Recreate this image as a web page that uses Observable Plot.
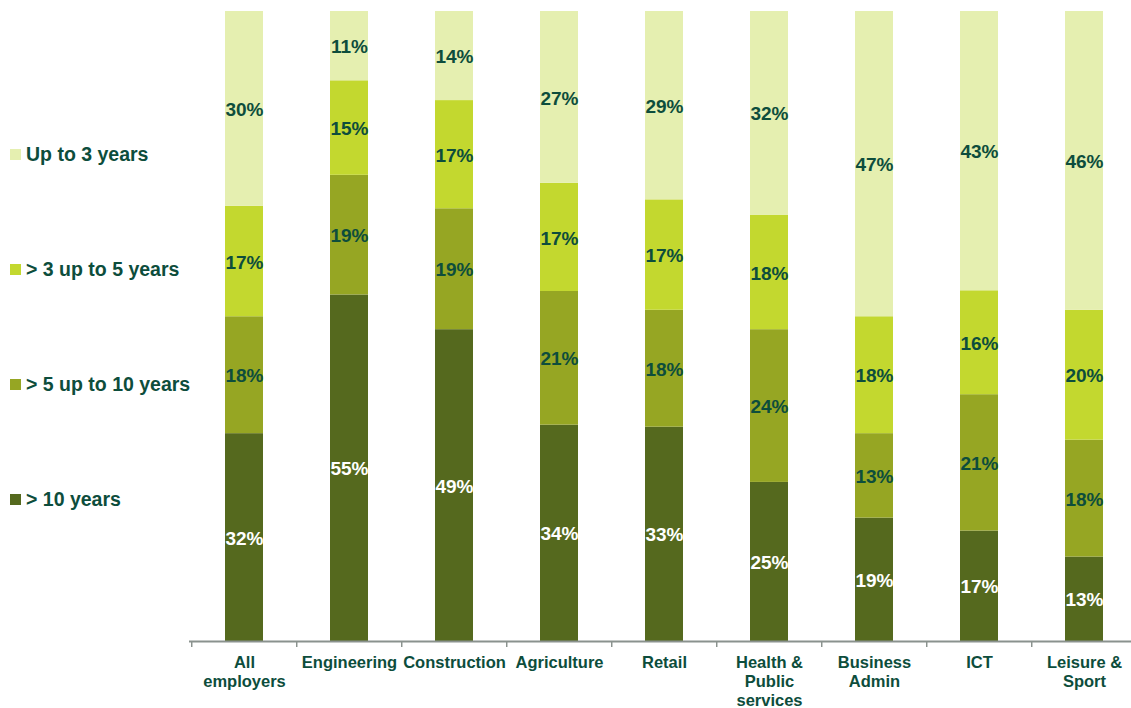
<!DOCTYPE html>
<html>
<head>
<meta charset="utf-8">
<script src="https://cdn.jsdelivr.net/npm/d3@7"></script>
<script src="https://cdn.jsdelivr.net/npm/@observablehq/plot@0.6"></script>
<style>
  html, body { margin: 0; padding: 0; background: #fff; overflow: hidden; }
  body { position: relative; width: 1131px; height: 708px; font-family: "Liberation Sans", Arial, sans-serif; }
  #chart { position: absolute; left: 0; top: 0; width: 1140px; }
  #chart svg { max-width: none !important; }
  #legend { position: absolute; left: 0; top: 0; width: 189px; height: 708px; }
  .item { position: absolute; left: 10px; display: flex; align-items: center; font-weight: bold; font-size: 19.5px; color: #0d4d3c; white-space: nowrap; }
  .sw { width: 11px; height: 11px; margin-right: 5px; }
</style>
</head>
<body>
<div id="chart"></div>
<div id="legend"></div>
<script>
const categories = ["All employers", "Engineering", "Construction", "Agriculture", "Retail", "Health & Public services", "Business Admin", "ICT", "Leisure & Sport"];
const tickLabels = ["All\nemployers", "Engineering", "Construction", "Agriculture", "Retail", "Health &\nPublic\nservices", "Business\nAdmin", "ICT", "Leisure &\nSport"];
const series = ["> 10 years", "> 5 up to 10 years", "> 3 up to 5 years", "Up to 3 years"];
const over10 = [32, 55, 49, 34, 33, 25, 19, 17, 13];
const from5to10 = [18, 19, 19, 21, 18, 24, 13, 21, 18];
const from3to5 = [17, 15, 17, 17, 17, 18, 18, 16, 20];
const upTo3 = [30, 11, 14, 27, 29, 32, 47, 43, 46];
const colors = ["#55691e", "#96a623", "#c3d82f", "#e5efb0"];
const labelColors = ["#ffffff", "#0d4d3c", "#0d4d3c", "#0d4d3c"];
const legendOrder = ["Up to 3 years", "> 3 up to 5 years", "> 5 up to 10 years", "> 10 years"];

const valuesBySeries = [over10, from5to10, from3to5, upTo3];
const data = [];
series.forEach((s, si) => {
  categories.forEach((c, ci) => {
    data.push({category: c, series: s, value: valuesBySeries[si][ci], labelColor: labelColors[si]});
  });
});

const W = 1140, H = 708, mL = 189, mR = 1, mT = 11, mB = 67;
const step = (W - mL - mR) / categories.length;
const textColor = "#0d4d3c";
const axisColor = "#8a928e";

const chart = Plot.plot({
  width: W,
  height: H,
  marginLeft: mL,
  marginRight: mR,
  marginTop: mT,
  marginBottom: mB,
  style: {fontFamily: "'Liberation Sans', Arial, sans-serif", background: "white", maxWidth: "none"},
  x: {domain: categories, paddingInner: 0.64, paddingOuter: 0.32, axis: null, label: null},
  y: {domain: [0, 1], axis: null, label: null},
  color: {domain: series, range: colors},
  marks: [
    Plot.barY(data, Plot.stackY({x: "category", y: "value", z: "series", fill: "series", offset: "normalize", order: null})),
    Plot.text(data, Plot.stackY({x: "category", y: "value", z: "series", offset: "normalize", order: null,
      text: d => d.value + "%", fill: "labelColor", fontWeight: "bold", fontSize: 19, dy: 1})),
    Plot.ruleY([0], {stroke: axisColor, strokeWidth: 2}),
    Plot.axisX({tickSize: 6, dx: -step / 2, stroke: axisColor, strokeWidth: 1.5, tickFormat: () => "", label: null}),
    Plot.axisX({tickSize: 0, tickPadding: 13, fill: textColor, fontWeight: "bold", fontSize: 16.5, lineHeight: 1.15, label: null,
      tickFormat: d => tickLabels[categories.indexOf(d)], textAnchor: "middle", lineAnchor: "top"})
  ]
});
document.getElementById("chart").appendChild(chart);

const legendTops = [154, 269, 384, 499];
const legend = document.getElementById("legend");
legendOrder.forEach((s, i) => {
  const item = document.createElement("div");
  item.className = "item";
  item.style.top = (legendTops[i] - 11) + "px";
  item.style.height = "22px";
  const sw = document.createElement("div");
  sw.className = "sw";
  sw.style.background = colors[series.indexOf(s)];
  const t = document.createElement("span");
  t.textContent = s;
  item.appendChild(sw);
  item.appendChild(t);
  legend.appendChild(item);
});
</script>
</body>
</html>
